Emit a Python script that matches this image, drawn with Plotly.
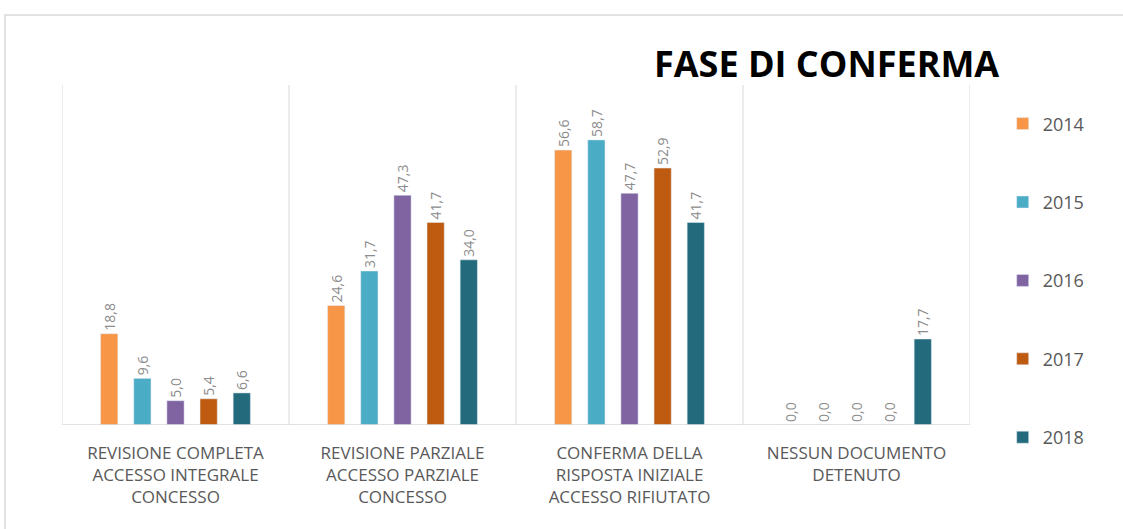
import plotly.graph_objects as go

categories = [
    "REVISIONE COMPLETA<br>ACCESSO INTEGRALE<br>CONCESSO",
    "REVISIONE PARZIALE<br>ACCESSO PARZIALE<br>CONCESSO",
    "CONFERMA DELLA<br>RISPOSTA INIZIALE<br>ACCESSO RIFIUTATO",
    "NESSUN DOCUMENTO<br>DETENUTO",
]
years = ["2014", "2015", "2016", "2017", "2018"]
v2014 = [18.8, 24.6, 56.6, 0.0]
v2015 = [9.6, 31.7, 58.7, 0.0]
v2016 = [5.0, 47.3, 47.7, 0.0]
v2017 = [5.4, 41.7, 52.9, 0.0]
v2018 = [6.6, 34.0, 41.7, 17.7]
series = [v2014, v2015, v2016, v2017, v2018]
colors = ["#F79646", "#4BACC6", "#8064A2", "#BF5B10", "#226A7C"]
title_text = "FASE DI CONFERMA"

W, H = 1123, 529
L, R, T, B = 62, 153, 85, 104
pw, ph = W - L - R, H - T - B

fig = go.Figure()
for yr, vals, col in zip(years, series, colors):
    fig.add_trace(go.Bar(
        x=list(range(len(categories))), y=vals, name=yr, marker_color=col,
        legendgroup=yr,
        texttemplate="%{y:.1f}", textposition="outside", textangle=-90,
        textfont=dict(family="Open Sans", size=14, color="#8C8C8C"),
        cliponaxis=False,
    ))

shapes = []
for i in range(len(categories) + 1):
    shapes.append(dict(type="line", xref="x", yref="y", x0=i - 0.5, x1=i - 0.5,
                       y0=0, y1=70, line=dict(color="#D9D9D9", width=1), layer="below"))
shapes.append(dict(type="line", xref="x", yref="y", x0=-0.5, x1=len(categories) - 0.5,
                   y0=0, y1=0, line=dict(color="#D9D9D9", width=1.5)))
# outer chart frame
shapes.append(dict(type="rect", xref="paper", yref="paper",
                   x0=(5 - L) / pw, x1=(W + 10 - L) / pw,
                   y0=-(H + 10 - T - ph) / ph, y1=1 + (T - 15) / ph,
                   line=dict(color="#D9D9D9", width=1.5)))

fig.update_layout(
    width=W, height=H,
    margin=dict(l=L, r=R, t=T, b=B),
    paper_bgcolor="white", plot_bgcolor="white",
    separators=",.",
    barmode="group", bargap=0.27, bargroupgap=0.48,
    uniformtext=dict(minsize=14, mode="show"),
    shapes=shapes,
    xaxis=dict(tickmode="array", tickvals=list(range(len(categories))), ticktext=categories,
               range=[-0.5, len(categories) - 0.5], showgrid=False, zeroline=False,
               showline=False, ticks="", ticklabelstandoff=16,
               tickfont=dict(family="Open Sans", size=17, color="#595959")),
    yaxis=dict(range=[0, 70], visible=False, showgrid=False),
    legend=dict(x=1.036, xanchor="left", y=0.94, yanchor="top",
                tracegroupgap=52, traceorder="grouped", maxheight=520,
                itemwidth=30,
                font=dict(family="Open Sans", size=18, color="#595959")),
    annotations=[dict(text="<b>" + title_text + "</b>", xref="paper", yref="paper",
                      x=(826 - L) / pw, y=1 + (T - 63) / ph, xanchor="center", yanchor="middle",
                      showarrow=False,
                      font=dict(family="Open Sans", size=36, color="#000000"))],
)

fig.write_html("out.html")
